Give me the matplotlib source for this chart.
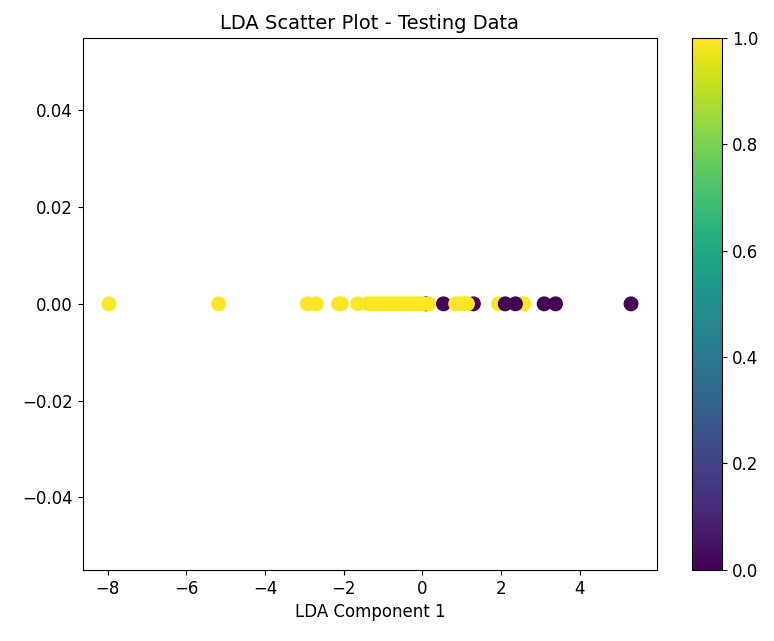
import numpy as np
import matplotlib.pyplot as plt

# LDA component values for the test set (1-D projection) and their class labels
lda_values = [-7.97, -5.18, -2.92, -2.70, -2.13, -2.06, -1.64, -1.38,
              0.10, -1.30, -1.20, -1.10, -1.00, -0.90, -0.80, -0.70, -0.60,
              -0.50, -0.40, -0.30, -0.20, -0.10, 0.00, 0.17, 0.54,
              1.30, 0.85, 0.95, 1.05, 1.15, 1.94, 2.58, 2.11, 2.37,
              3.10, 3.39, 5.31]
labels = [1, 1, 1, 1, 1, 1, 1, 1,
          0, 1, 1, 1, 1, 1, 1, 1, 1,
          1, 1, 1, 1, 1, 1, 1, 0,
          0, 1, 1, 1, 1, 1, 1, 0, 0,
          0, 0, 0]

fig = plt.figure(figsize=(7.74, 6.41), dpi=100)
ax = fig.add_axes([0.107, 0.111, 0.742, 0.830])
cax = fig.add_axes([0.894, 0.111, 0.039, 0.830])

sc = ax.scatter(lda_values, np.zeros(len(lda_values)), c=labels,
                cmap='viridis', s=95)
ax.set_xlabel('LDA Component 1', fontsize=12)
ax.set_title('LDA Scatter Plot - Testing Data', fontsize=14)
ax.tick_params(labelsize=12)

cb = fig.colorbar(sc, cax=cax)
cb.ax.tick_params(labelsize=12)

plt.savefig('out.png', dpi=100)
plt.close()
